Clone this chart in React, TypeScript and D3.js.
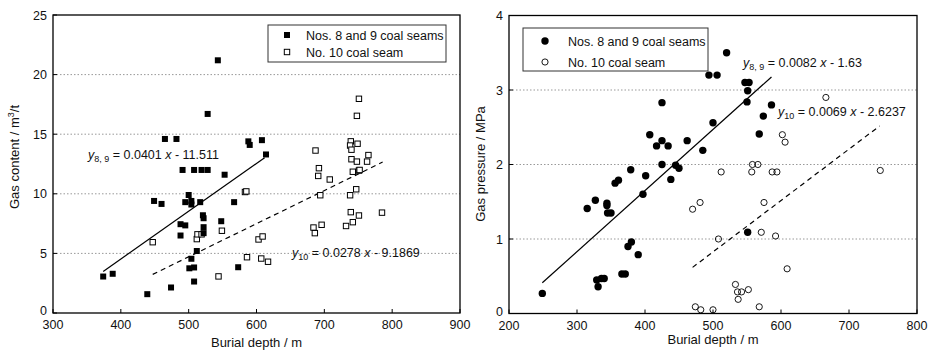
import React from "react";
import * as d3 from "d3";

// burial depth (m) / gas content (m3/t)
const seam89Depth = [543, 528, 465, 482, 588, 590, 608, 614, 491, 508, 519, 528, 553, 500, 449, 460, 495, 504, 504, 517, 567, 521, 522, 548, 488, 495, 522, 522, 488, 512, 504, 501, 508, 573, 388, 374, 508, 474, 439];
const seam89Content = [21.2, 16.7, 14.6, 14.6, 14.4, 14.1, 14.5, 13.3, 12.0, 12.0, 12.0, 12.0, 11.6, 9.9, 9.4, 9.15, 9.3, 9.4, 9.1, 9.3, 9.3, 8.2, 7.95, 7.7, 7.45, 7.35, 7.2, 6.7, 6.5, 5.2, 4.55, 3.75, 3.82, 3.84, 3.29, 3.06, 2.64, 2.14, 1.58];
const seam10Depth = [447, 512, 513, 519, 549, 583, 585, 603, 609, 586, 607, 617, 544, 684, 686, 696, 694, 708, 691, 738, 747, 739, 751, 742, 732, 785, 742, 751, 751, 748, 687, 739, 738, 749, 740, 740, 748, 765, 763, 692, 752];
const seam10Content = [5.94, 6.2, 6.6, 6.6, 6.9, 10.15, 10.2, 6.17, 6.42, 4.68, 4.57, 4.3, 3.07, 7.17, 6.7, 7.4, 9.88, 11.2, 11.5, 9.88, 10.38, 8.46, 8.18, 7.62, 7.3, 8.42, 11.85, 11.95, 17.97, 16.54, 13.63, 14.4, 14.05, 14.2, 13.7, 12.9, 12.7, 13.25, 12.7, 12.15, 12.0];

// burial depth (m) / gas pressure (MPa)
const press89Depth = [520, 494, 506, 547, 553, 551, 550, 586, 574, 568, 500, 425, 407, 425, 417, 434, 462, 485, 425, 445, 450, 379, 401, 361, 438, 356, 315, 327, 344, 344, 345, 350, 397, 551, 380, 375, 390, 366, 371, 329, 336, 340, 331, 249];
const press89Value = [3.5, 3.2, 3.2, 3.1, 3.1, 2.99, 2.84, 2.8, 2.65, 2.41, 2.56, 2.83, 2.4, 2.32, 2.25, 2.25, 2.32, 2.19, 2.0, 1.99, 1.95, 1.93, 1.85, 1.79, 1.8, 1.75, 1.41, 1.52, 1.48, 1.45, 1.35, 1.35, 1.6, 1.09, 0.96, 0.9, 0.79, 0.53, 0.53, 0.45, 0.47, 0.47, 0.36, 0.27];
const press10Depth = [666, 602, 606, 558, 566, 512, 557, 587, 594, 746, 470, 481, 575, 508, 571, 592, 609, 533, 536, 542, 552, 537, 474, 482, 500, 568];
const press10Value = [2.9, 2.4, 2.3, 2.0, 2.0, 1.9, 1.9, 1.9, 1.9, 1.92, 1.4, 1.49, 1.49, 1.0, 1.09, 1.04, 0.6, 0.39, 0.29, 0.29, 0.32, 0.19, 0.09, 0.05, 0.05, 0.09];

const contentXTicks = [300, 400, 500, 600, 700, 800, 900];
const contentYTicks = [0, 5, 10, 15, 20, 25];
const pressureXTicks = [200, 300, 400, 500, 600, 700, 800];
const pressureYTicks = [0, 1, 2, 3, 4];

const legendLabels = ["Nos. 8 and 9 coal seams", "No. 10  coal seam"];

// fitted lines: slope, intercept, x-range drawn
const contentFit89 = { k: 0.0401, b: -11.511, from: 374, to: 612, sub: "8, 9", label: "0.0401", c: "11.511" };
const contentFit10 = { k: 0.0278, b: -9.1869, from: 447, to: 786, sub: "10", label: "0.0278", c: "9.1869" };
const pressureFit89 = { k: 0.0082, b: -1.63, from: 249, to: 586, sub: "8, 9", label: "0.0082", c: "1.63" };
const pressureFit10 = { k: 0.0069, b: -2.6237, from: 470, to: 745, sub: "10", label: "0.0069", c: "2.6237" };

const FONT = "'Liberation Sans', Arial, sans-serif";

type Fit = typeof contentFit89;

function Equation({ x, y, fit }: { x: number; y: number; fit: Fit }) {
  return (
    <text x={x} y={y} fontSize={12.5} fontFamily={FONT} fill="#111">
      <tspan fontStyle="italic">y</tspan>
      <tspan fontSize={9} dy={3}>{fit.sub}</tspan>
      <tspan dy={-3}>{` = ${fit.label} `}</tspan>
      <tspan fontStyle="italic">x</tspan>
      <tspan>{` - ${fit.c}`}</tspan>
    </text>
  );
}

function Panel(props: {
  left: number; right: number; top: number; bottom: number;
  xDomain: [number, number]; yDomain: [number, number];
  xTicks: number[]; yTicks: number[]; yTitle: string; xTitleY: number; yTitleX: number; yTitleY: number;
  filledX: number[]; filledY: number[]; openX: number[]; openY: number[];
  shape: "square" | "circle";
  fits: Fit[]; eqPos: [number, number][];
  legend: { x: number; y: number; w: number; h: number; row1: number; row2: number; mx: number; tx: number };
}) {
  const { left, right, top, bottom, shape } = props;
  const x = d3.scaleLinear().domain(props.xDomain).range([left, right]);
  const y = d3.scaleLinear().domain(props.yDomain).range([bottom, top]);

  const marker = (cx: number, cy: number, filled: boolean, key: string | number) =>
    shape === "square" ? (
      <rect key={key} x={cx - (filled ? 3 : 2.7)} y={cy - (filled ? 3 : 2.7)} width={filled ? 6 : 5.4} height={filled ? 6 : 5.4}
        fill={filled ? "#000" : "#fff"} stroke="#000" strokeWidth={filled ? 0 : 1} />
    ) : (
      <circle key={key} cx={cx} cy={cy} r={filled ? 3.7 : 3.1} fill={filled ? "#000" : "none"} stroke="#000" strokeWidth={filled ? 0 : 0.9} />
    );

  const lg = props.legend;

  return (
    <g>
      {props.yTicks.slice(1, -1).map((t) => (
        <line key={t} x1={left} x2={right} y1={y(t)} y2={y(t)} stroke="#999" strokeWidth={1} strokeDasharray="1.5,2" />
      ))}
      {props.fits.map((f, i) => {
        const fitLine = d3.line<number>().x((d) => x(d)).y((d) => y(f.k * d + f.b));
        return (
          <path key={i} d={fitLine([f.from, f.to]) || ""} fill="none" stroke="#000" strokeWidth={1.2}
            strokeDasharray={i === 1 ? "5,4" : undefined} />
        );
      })}
      {props.openX.map((v, i) => marker(x(v), y(props.openY[i]), false, "o" + i))}
      {props.filledX.map((v, i) => marker(x(v), y(props.filledY[i]), true, "f" + i))}
      <rect x={left} y={top} width={right - left} height={bottom - top} fill="none" stroke="#000" strokeWidth={1.3} />
      {props.xTicks.map((t) => (
        <g key={t}>
          <line x1={x(t)} x2={x(t)} y1={bottom} y2={bottom - 4} stroke="#000" />
          <text x={x(t)} y={bottom + 16} textAnchor="middle" fontSize={12.5} fontFamily={FONT} fill="#111">{t}</text>
        </g>
      ))}
      {props.yTicks.map((t) => (
        <g key={t}>
          <line x1={left} x2={left + 4} y1={y(t)} y2={y(t)} stroke="#000" />
          <text x={left - 6} y={y(t) + (t === 0 ? 2 : 4.5)} textAnchor="end" fontSize={12.5} fontFamily={FONT} fill="#111">{t}</text>
        </g>
      ))}
      <text x={(left + right) / 2} y={props.xTitleY} textAnchor="middle" fontSize={13} fontFamily={FONT} fill="#111">Burial depth / m</text>
      <text transform={`translate(${props.yTitleX},${props.yTitleY}) rotate(-90)`} textAnchor="middle" fontSize={13} fontFamily={FONT} fill="#111">
        {props.yTitle === "content" ? (
          <>Gas content / m<tspan fontSize={9} dy={-5}>3</tspan><tspan dy={5}>/t</tspan></>
        ) : (
          "Gas pressure / MPa"
        )}
      </text>
      {props.fits.map((f, i) => (
        <Equation key={i} x={props.eqPos[i][0]} y={props.eqPos[i][1]} fit={f} />
      ))}
      <rect x={lg.x} y={lg.y} width={lg.w} height={lg.h} fill="#fff" stroke="#333" strokeWidth={1} />
      {marker(lg.mx, lg.row1, true, "l1")}
      {marker(lg.mx, lg.row2, false, "l2")}
      <text x={lg.tx} y={lg.row1 + 4.5} fontSize={12.5} fontFamily={FONT} fill="#111">{legendLabels[0]}</text>
      <text x={lg.tx} y={lg.row2 + 4.5} fontSize={12.5} fontFamily={FONT} fill="#111">{legendLabels[1]}</text>
    </g>
  );
}

export default function App() {
  return (
    <div style={{ position: "absolute", left: 0, top: 0 }}>
      <svg width={932} height={352} style={{ display: "block", background: "#fff" }}>
        <Panel
          left={53} right={460} top={15} bottom={313}
          xDomain={[300, 900]} yDomain={[0, 25]}
          xTicks={contentXTicks} yTicks={contentYTicks}
          yTitle="content" xTitleY={347} yTitleX={19} yTitleY={157}
          filledX={seam89Depth} filledY={seam89Content} openX={seam10Depth} openY={seam10Content}
          shape="square"
          fits={[contentFit89, contentFit10]} eqPos={[[88, 159], [292, 257]]}
          legend={{ x: 268, y: 25, w: 178, h: 37, row1: 35, row2: 52, mx: 287, tx: 306 }}
        />
        <Panel
          left={509} right={917} top={15.5} bottom={313.5}
          xDomain={[200, 800]} yDomain={[0, 4]}
          xTicks={pressureXTicks} yTicks={pressureYTicks}
          yTitle="pressure" xTitleY={344} yTitleX={485} yTitleY={164}
          filledX={press89Depth} filledY={press89Value} openX={press10Depth} openY={press10Value}
          shape="circle"
          fits={[pressureFit89, pressureFit10]} eqPos={[[743, 67], [778, 116]]}
          legend={{ x: 523, y: 28, w: 185, h: 43, row1: 41, row2: 62, mx: 545, tx: 568 }}
        />
      </svg>
    </div>
  );
}
